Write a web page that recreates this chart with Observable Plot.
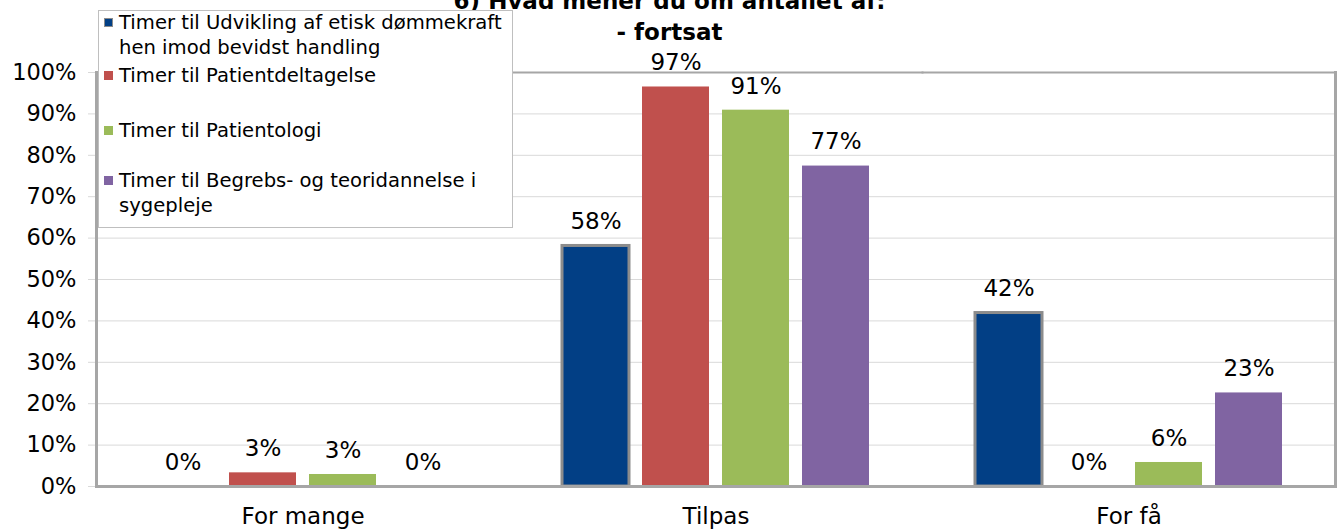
<!DOCTYPE html>
<html>
<head>
<meta charset="utf-8">
<script src="https://cdn.jsdelivr.net/npm/d3@7"></script>
<script src="https://cdn.jsdelivr.net/npm/@observablehq/plot@0.6"></script>
<style>
  html, body { margin: 0; padding: 0; background: #fff; }
  #wrap { position: relative; width: 1339px; height: 530px; overflow: hidden; font-family: "DejaVu Sans", sans-serif; color: #000; }
  #title { position: absolute; left: 0; width: 1339px; top: -14px; text-align: center; font-weight: bold; font-size: 23px; line-height: 31px; z-index: 2; }
  #legend { position: absolute; left: 98px; top: 10px; width: 415px; height: 218px; box-sizing: border-box; background: #fff; border: 1px solid #bfbfbf; z-index: 3; font-size: 19.6px; line-height: 25px; }
  .item { position: absolute; left: 20px; right: 0px; white-space: normal; }
  .sw { position: absolute; left: 5px; width: 9px; height: 9px; box-sizing: border-box; }
  #chart { position: absolute; left: 0; top: 0; }
</style>
</head>
<body>
<div id="wrap">
  <div id="chart"></div>
  <div id="title"></div>
  <div id="legend"></div>
</div>
<script>
// ---- data ----
const titleLines = ["6) Hvad mener du om antallet af:", "- fortsat"];
const categories = ["For mange", "Tilpas", "For få"];
const seriesNames = [
  "Timer til Udvikling af etisk dømmekraft hen imod bevidst handling",
  "Timer til Patientdeltagelse",
  "Timer til Patientologi",
  "Timer til Begrebs- og teoridannelse i sygepleje"
];
const seriesColors = ["#023F85", "#C0504D", "#9BBB59", "#8064A2"];
// values (percent) per series, in category order
const udvikling = [0, 58.1, 41.9];
const patientdeltagelse = [3.3, 96.5, 0];
const patientologi = [2.9, 90.9, 5.8];
const begrebs = [0, 77.4, 22.6];
const yTicks = [0, 10, 20, 30, 40, 50, 60, 70, 80, 90, 100];

const seriesValues = [udvikling, patientdeltagelse, patientologi, begrebs];
const rows = [];
categories.forEach((c, i) => {
  seriesNames.forEach((s, j) => rows.push({category: c, series: s, value: seriesValues[j][i]}));
});

// ---- title ----
document.getElementById("title").innerHTML = titleLines.map(t => `<div>${t}</div>`).join("");

// ---- legend ----
const legendTops = [10, 63, 118, 168];
const legend = document.getElementById("legend");
seriesNames.forEach((s, j) => {
  const item = document.createElement("div");
  item.className = "item";
  item.style.top = (legendTops[j] - 11) + "px";
  item.textContent = s;
  const sw = document.createElement("div");
  sw.className = "sw";
  sw.style.background = seriesColors[j];
  sw.style.top = (legendTops[j] - 11 + 8) + "px";
  if (j === 0) sw.style.border = "1.5px solid #8c8c8c";
  legend.appendChild(sw);
  legend.appendChild(item);
});

// ---- chart ----
const frameColor = "#a6a6a6";
const chart = Plot.plot({
  width: 1339,
  height: 530,
  marginLeft: 96,
  marginRight: 4,
  marginTop: 72,
  marginBottom: 44,
  style: {fontFamily: "DejaVu Sans, sans-serif", fontSize: "20px", color: "#000", background: "#fff"},
  fx: {domain: categories, padding: 0, label: null},
  x: {domain: seriesNames, axis: null, paddingInner: 0.16, paddingOuter: 0.63},
  y: {domain: [0, 100], label: null},
  color: {domain: seriesNames, range: seriesColors},
  marks: [
    Plot.ruleY(yTicks.filter(t => t > 0 && t < 100), {stroke: "#d9d9d9", strokeWidth: 1}),
    Plot.axisY({ticks: yTicks, tickFormat: d => d + "%", tickSize: 8, tickPadding: 12, stroke: "#d9d9d9", fill: "#000", fontSize: 22.5, label: null}),
    Plot.axisFx({anchor: "bottom", tickSize: 0, tickPadding: 21, fontSize: 23, label: null}),
    Plot.barY(rows, {fx: "category", x: "series", y: "value", fill: "series"}),
    Plot.barY(rows.filter(d => d.series === seriesNames[0] && d.value > 0), {fx: "category", x: "series", y: "value", fill: "series", stroke: "#8c8c8c", strokeWidth: 3}),
    Plot.text(rows, {fx: "category", x: "series", y: "value", text: d => Math.round(d.value) + "%", dy: -24, fontSize: 23, fill: "#000"}),
    Plot.frame({anchor: "top", stroke: frameColor, strokeWidth: 2}),
    Plot.frame({anchor: "bottom", stroke: frameColor, strokeWidth: 3}),
    Plot.frame({anchor: "left", facetAnchor: "left", stroke: frameColor, strokeWidth: 3}),
    Plot.frame({anchor: "right", facetAnchor: "right", stroke: frameColor, strokeWidth: 3})
  ]
});
document.getElementById("chart").appendChild(chart);
</script>
</body>
</html>
